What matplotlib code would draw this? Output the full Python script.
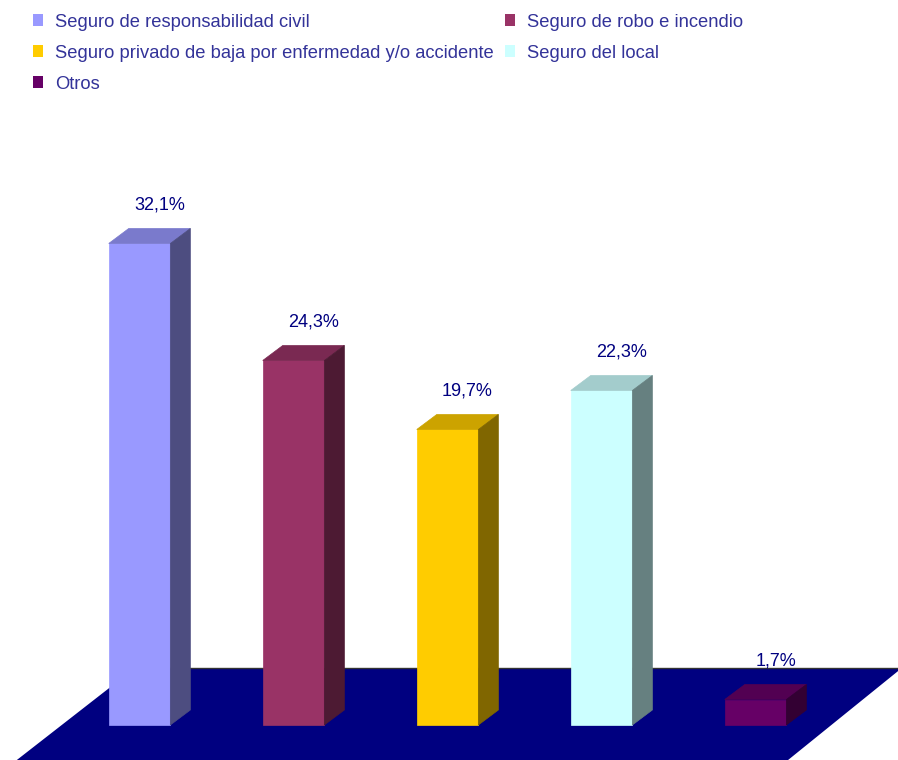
import matplotlib.pyplot as plt
from matplotlib.patches import Polygon, Patch

plt.rcParams['font.family'] = ['Liberation Sans', 'DejaVu Sans']

# Datos
categorias = ['Seguro de responsabilidad civil', 'Seguro de robo e incendio',
              'Seguro privado de baja por enfermedad y/o accidente',
              'Seguro del local', 'Otros']
valores = [32.1, 24.3, 19.7, 22.3, 1.7]
etiquetas = ['32,1%', '24,3%', '19,7%', '22,3%', '1,7%']

# Colores: frente, tapa, lateral
frente = ['#9999FF', '#993366', '#FFCC00', '#CCFFFF', '#660066']
tapa = ['#7A7ACC', '#7A2952', '#CCA300', '#A3CCCC', '#520052']
lateral = ['#4D4D80', '#4D1A33', '#806600', '#668080', '#330033']

ancho = 0.4      # ancho de la barra
prof_x = 0.13    # desplazamiento de profundidad en x
prof_y = 1.0     # desplazamiento de profundidad en y

fig = plt.figure(figsize=(8.98, 7.6), dpi=100)
ax = fig.add_axes([0, 0, 1, 1])
ax.set_xlim(-0.906, 4.925)
ax.set_ylim(-2.333, 48.33)
ax.axis('off')

# Suelo
suelo = Polygon([(-0.03, 3.8), (4.95, 3.8), (3.89, -5), (-1.13, -5)],
                closed=True, facecolor='#000080', edgecolor='none', zorder=1)
ax.add_patch(suelo)
ax.plot([-0.03, 4.95], [3.8, 3.8], color='#333333', lw=1, zorder=1.5)


def cara(puntos, color):
    ax.add_patch(Polygon(puntos, facecolor=color, edgecolor=color, lw=0.5, zorder=3))


# Barras 3D
for i, v in enumerate(valores):
    x0, x1 = i - ancho / 2, i + ancho / 2
    cara([(x0, 0), (x1, 0), (x1, v), (x0, v)], frente[i])
    cara([(x0, v), (x1, v), (x1 + prof_x, v + prof_y), (x0 + prof_x, v + prof_y)], tapa[i])
    cara([(x1, 0), (x1 + prof_x, prof_y), (x1 + prof_x, v + prof_y), (x1, v)], lateral[i])
    ax.text(i + 0.13, v + 2.55, etiquetas[i], ha='center', va='center',
            fontsize=13, color='#000080', zorder=4)

# Leyenda en orden por filas
handles = [Patch(facecolor=c, edgecolor='none') for c in frente]
orden = [0, 2, 4, 1, 3]
fig.legend([handles[k] for k in orden], [categorias[k] for k in orden],
           loc='upper left', bbox_to_anchor=(0.021, 1.0), ncol=2, frameon=False,
           fontsize=13.25, labelcolor='#333399', handlelength=0.55, handleheight=0.6,
           handletextpad=0.66, columnspacing=0.62, labelspacing=0.76, borderaxespad=0.35)

plt.savefig('out.png', dpi=100)
